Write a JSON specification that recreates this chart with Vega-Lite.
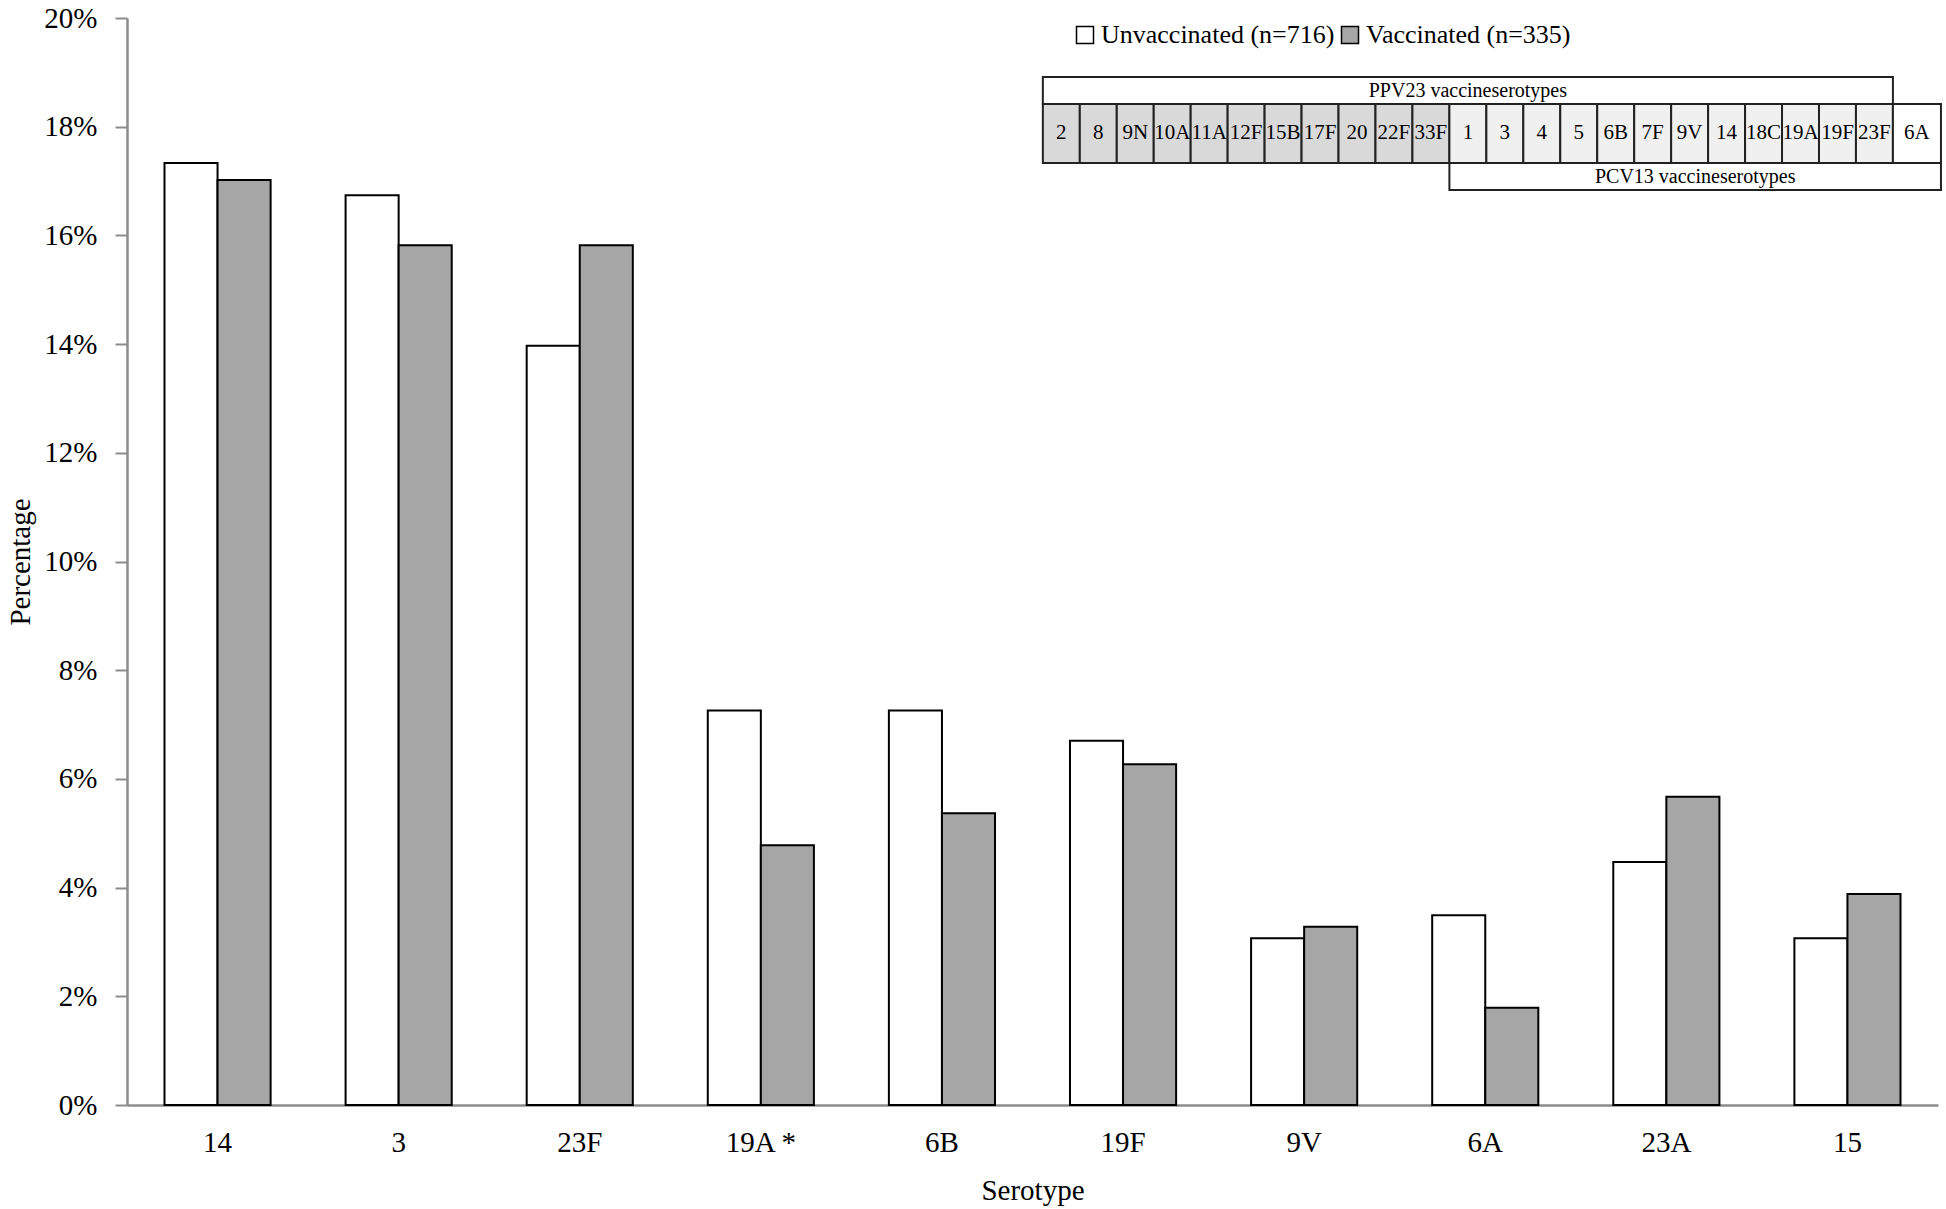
{
  "$schema": "https://vega.github.io/schema/vega-lite/v6.json",
  "width": 1811,
  "height": 1087,
  "autosize": "none",
  "padding": {"left": 127, "top": 18, "right": 8, "bottom": 104},
  "background": "white",
  "config": {"view": {"stroke": null}, "font": "Liberation Serif"},
  "datasets": {
    "bars": [
      {"serotype": "14", "status": "Unvaccinated (n=716)", "pct": 0.1733},
      {"serotype": "14", "status": "Vaccinated (n=335)", "pct": 0.1702},
      {"serotype": "3", "status": "Unvaccinated (n=716)", "pct": 0.1674},
      {"serotype": "3", "status": "Vaccinated (n=335)", "pct": 0.1582},
      {"serotype": "23F", "status": "Unvaccinated (n=716)", "pct": 0.1397},
      {"serotype": "23F", "status": "Vaccinated (n=335)", "pct": 0.1582},
      {"serotype": "19A *", "status": "Unvaccinated (n=716)", "pct": 0.0726},
      {"serotype": "19A *", "status": "Vaccinated (n=335)", "pct": 0.0478},
      {"serotype": "6B", "status": "Unvaccinated (n=716)", "pct": 0.0726},
      {"serotype": "6B", "status": "Vaccinated (n=335)", "pct": 0.0537},
      {"serotype": "19F", "status": "Unvaccinated (n=716)", "pct": 0.0670},
      {"serotype": "19F", "status": "Vaccinated (n=335)", "pct": 0.0627},
      {"serotype": "9V", "status": "Unvaccinated (n=716)", "pct": 0.0307},
      {"serotype": "9V", "status": "Vaccinated (n=335)", "pct": 0.0328},
      {"serotype": "6A", "status": "Unvaccinated (n=716)", "pct": 0.0349},
      {"serotype": "6A", "status": "Vaccinated (n=335)", "pct": 0.0179},
      {"serotype": "23A", "status": "Unvaccinated (n=716)", "pct": 0.0447},
      {"serotype": "23A", "status": "Vaccinated (n=335)", "pct": 0.0567},
      {"serotype": "15", "status": "Unvaccinated (n=716)", "pct": 0.0307},
      {"serotype": "15", "status": "Vaccinated (n=335)", "pct": 0.0388}
    ],
    "table": [
      {"label": "PPV23 vaccineserotypes", "kind": "head", "c0": 0, "c1": 23, "cx": 11.5, "r0": 0, "r1": 1, "ry": 0.5},
      {"label": "PCV13 vaccineserotypes", "kind": "head", "c0": 11, "c1": 24.3, "cx": 17.65, "r0": 3.185, "r1": 4.185, "ry": 3.685},
      {"label": "2", "kind": "ppv", "c0": 0, "c1": 1, "cx": 0.5, "r0": 1, "r1": 3.185, "ry": 2.09},
      {"label": "8", "kind": "ppv", "c0": 1, "c1": 2, "cx": 1.5, "r0": 1, "r1": 3.185, "ry": 2.09},
      {"label": "9N", "kind": "ppv", "c0": 2, "c1": 3, "cx": 2.5, "r0": 1, "r1": 3.185, "ry": 2.09},
      {"label": "10A", "kind": "ppv", "c0": 3, "c1": 4, "cx": 3.5, "r0": 1, "r1": 3.185, "ry": 2.09},
      {"label": "11A", "kind": "ppv", "c0": 4, "c1": 5, "cx": 4.5, "r0": 1, "r1": 3.185, "ry": 2.09},
      {"label": "12F", "kind": "ppv", "c0": 5, "c1": 6, "cx": 5.5, "r0": 1, "r1": 3.185, "ry": 2.09},
      {"label": "15B", "kind": "ppv", "c0": 6, "c1": 7, "cx": 6.5, "r0": 1, "r1": 3.185, "ry": 2.09},
      {"label": "17F", "kind": "ppv", "c0": 7, "c1": 8, "cx": 7.5, "r0": 1, "r1": 3.185, "ry": 2.09},
      {"label": "20", "kind": "ppv", "c0": 8, "c1": 9, "cx": 8.5, "r0": 1, "r1": 3.185, "ry": 2.09},
      {"label": "22F", "kind": "ppv", "c0": 9, "c1": 10, "cx": 9.5, "r0": 1, "r1": 3.185, "ry": 2.09},
      {"label": "33F", "kind": "ppv", "c0": 10, "c1": 11, "cx": 10.5, "r0": 1, "r1": 3.185, "ry": 2.09},
      {"label": "1", "kind": "pcv", "c0": 11, "c1": 12, "cx": 11.5, "r0": 1, "r1": 3.185, "ry": 2.09},
      {"label": "3", "kind": "pcv", "c0": 12, "c1": 13, "cx": 12.5, "r0": 1, "r1": 3.185, "ry": 2.09},
      {"label": "4", "kind": "pcv", "c0": 13, "c1": 14, "cx": 13.5, "r0": 1, "r1": 3.185, "ry": 2.09},
      {"label": "5", "kind": "pcv", "c0": 14, "c1": 15, "cx": 14.5, "r0": 1, "r1": 3.185, "ry": 2.09},
      {"label": "6B", "kind": "pcv", "c0": 15, "c1": 16, "cx": 15.5, "r0": 1, "r1": 3.185, "ry": 2.09},
      {"label": "7F", "kind": "pcv", "c0": 16, "c1": 17, "cx": 16.5, "r0": 1, "r1": 3.185, "ry": 2.09},
      {"label": "9V", "kind": "pcv", "c0": 17, "c1": 18, "cx": 17.5, "r0": 1, "r1": 3.185, "ry": 2.09},
      {"label": "14", "kind": "pcv", "c0": 18, "c1": 19, "cx": 18.5, "r0": 1, "r1": 3.185, "ry": 2.09},
      {"label": "18C", "kind": "pcv", "c0": 19, "c1": 20, "cx": 19.5, "r0": 1, "r1": 3.185, "ry": 2.09},
      {"label": "19A", "kind": "pcv", "c0": 20, "c1": 21, "cx": 20.5, "r0": 1, "r1": 3.185, "ry": 2.09},
      {"label": "19F", "kind": "pcv", "c0": 21, "c1": 22, "cx": 21.5, "r0": 1, "r1": 3.185, "ry": 2.09},
      {"label": "23F", "kind": "pcv", "c0": 22, "c1": 23, "cx": 22.5, "r0": 1, "r1": 3.185, "ry": 2.09},
      {"label": "6A", "kind": "other", "c0": 23, "c1": 24.3, "cx": 23.65, "r0": 1, "r1": 3.185, "ry": 2.09}
    ]
  },
  "layer": [
    {
      "data": {"name": "bars"},
      "mark": {"type": "bar", "stroke": "black", "strokeWidth": 2},
      "encoding": {
        "x": {
          "field": "serotype", "type": "nominal", "sort": null,
          "scale": {"paddingInner": 0.414, "paddingOuter": 0.207},
          "axis": {
            "title": "Serotype", "labelAngle": 0, "labelFontSize": 29, "titleFontSize": 29,
            "labelFont": "Liberation Serif", "titleFont": "Liberation Serif", "titleFontWeight": "normal",
            "ticks": false, "tickSize": 0, "domainColor": "#8c8c8c", "domainWidth": 2.5,
            "labelPadding": 23, "titlePadding": 19, "labelColor": "black", "titleColor": "black", "grid": false
          }
        },
        "xOffset": {"field": "status", "type": "nominal", "sort": ["Unvaccinated (n=716)", "Vaccinated (n=335)"], "scale": {"paddingInner": 0, "paddingOuter": 0}},
        "y": {
          "field": "pct", "type": "quantitative",
          "scale": {"domain": [0, 0.2], "nice": false},
          "axis": {
            "title": "Percentage", "format": ".0%", "values": [0, 0.02, 0.04, 0.06, 0.08, 0.1, 0.12, 0.14, 0.16, 0.18, 0.2],
            "grid": false, "tickSize": 12, "tickColor": "#8c8c8c", "tickWidth": 2, "domainColor": "#8c8c8c", "domainWidth": 2.5,
            "labelFontSize": 29, "titleFontSize": 29, "labelFont": "Liberation Serif", "titleFont": "Liberation Serif",
            "titleFontWeight": "normal", "labelPadding": 18, "titlePadding": 8, "labelColor": "black", "titleColor": "black"
          }
        },
        "fill": {
          "field": "status", "type": "nominal",
          "scale": {"domain": ["Unvaccinated (n=716)", "Vaccinated (n=335)"], "range": ["white", "#a6a6a6"]},
          "legend": {
            "title": null, "orient": "none", "legendX": 945, "legendY": 4, "direction": "horizontal",
            "symbolType": "square", "symbolSize": 289, "symbolStrokeColor": "black", "symbolStrokeWidth": 1.5,
            "labelFontSize": 26, "labelFont": "Liberation Serif", "labelColor": "black", "labelOffset": 3,
            "labelLimit": 0, "columnPadding": 2, "symbolOpacity": 1
          }
        }
      }
    },
    {
      "data": {"name": "table"},
      "mark": {"type": "rect", "stroke": "#222222", "strokeWidth": 2},
      "encoding": {
        "x": {"field": "c0", "type": "quantitative", "scale": {"domain": [-24.78, 24.22], "nice": false, "zero": false}, "axis": null},
        "x2": {"field": "c1"},
        "y": {"field": "r0", "type": "quantitative", "scale": {"domain": [-2.185, 38.07], "nice": false, "zero": false, "reverse": true}, "axis": null},
        "y2": {"field": "r1"},
        "fill": {
          "condition": [
            {"test": "datum.kind === 'ppv'", "value": "#d9d9d9"},
            {"test": "datum.kind === 'pcv'", "value": "#f0f0f0"}
          ],
          "value": "white"
        }
      }
    },
    {
      "data": {"name": "table"},
      "mark": {"type": "text", "font": "Liberation Serif", "color": "black", "baseline": "middle", "align": "center"},
      "encoding": {
        "x": {"field": "cx", "type": "quantitative", "scale": {"domain": [-24.78, 24.22], "nice": false, "zero": false}, "axis": null},
        "y": {"field": "ry", "type": "quantitative", "scale": {"domain": [-2.185, 38.07], "nice": false, "zero": false, "reverse": true}, "axis": null},
        "text": {"field": "label", "type": "nominal"},
        "size": {"condition": {"test": "datum.kind === 'head'", "value": 20}, "value": 21}
      }
    }
  ],
  "resolve": {"scale": {"x": "independent", "y": "independent", "fill": "independent", "size": "independent"}}
}
